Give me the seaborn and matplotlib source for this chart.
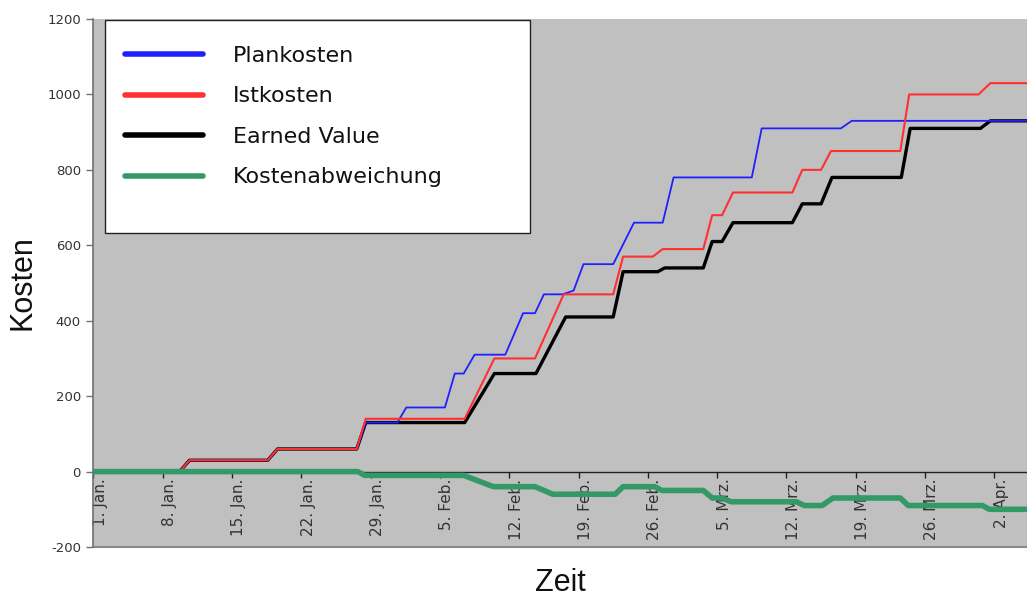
import matplotlib
matplotlib.use("Agg")
import matplotlib.pyplot as plt
import seaborn as sns
import pandas as pd
from matplotlib.patches import Rectangle

# Corner points of each cumulative cost curve (x = days since 1 Jan)
plan_days = [0, 8.7, 9.7, 17.6, 18.6, 26.6, 27.5, 30.7, 31.6, 35.5, 36.5, 37.4, 38.5,
             41.6, 43.4, 44.6, 45.5, 47.4, 48.5, 49.5, 52.5, 54.6, 57.5, 58.6, 66.5,
             67.5, 75.5, 76.6, 94.5]
plan_vals = [0, 0, 30, 30, 60, 60, 130, 130, 170, 170, 260, 260, 310,
             310, 420, 420, 470, 470, 480, 550, 550, 660, 660, 780, 780,
             910, 910, 930, 930]

ist_days = [0, 8.7, 9.7, 17.6, 18.6, 26.6, 27.5, 37.5, 40.5, 44.6, 47.5, 52.5, 53.5,
            56.5, 57.5, 61.6, 62.5, 63.5, 64.6, 70.6, 71.6, 73.5, 74.5, 81.5, 82.4,
            89.4, 90.6, 94.5]
ist_vals = [0, 0, 30, 30, 60, 60, 140, 140, 300, 300, 470, 470, 570,
            570, 590, 590, 680, 680, 740, 740, 800, 800, 850, 850, 1000,
            1000, 1030, 1030]

ev_days = [0, 8.7, 9.7, 17.6, 18.6, 26.6, 27.5, 37.5, 40.5, 44.7, 47.7, 52.5, 53.5,
           57.0, 57.7, 61.6, 62.5, 63.5, 64.6, 70.6, 71.6, 73.5, 74.6, 81.6, 82.5,
           89.6, 90.6, 94.5]
ev_vals = [0, 0, 30, 30, 60, 60, 130, 130, 260, 260, 410, 410, 530,
           530, 540, 540, 610, 610, 660, 660, 710, 710, 780, 780, 910,
           910, 930, 930]

kv_days = [0, 26.7, 27.4, 37.4, 40.4, 44.6, 46.4, 52.7, 53.5, 56.7, 57.4, 61.6, 62.5,
           63.5, 64.4, 71.0, 71.8, 73.6, 74.7, 81.5, 82.3, 89.8, 90.5, 94.5]
kv_vals = [0, 0, -10, -10, -40, -40, -60, -60, -40, -40, -50, -50, -70,
           -70, -80, -80, -90, -90, -70, -70, -90, -90, -100, -100]

tick_days = [0, 7, 14, 21, 28, 35, 42, 49, 56, 63, 70, 77, 84, 91]
tick_labels = ["1. Jan.", "8. Jan.", "15. Jan.", "22. Jan.", "29. Jan.", "5. Feb.",
               "12. Feb.", "19. Feb.", "26. Feb.", "5. Mrz.", "12. Mrz.", "19. Mrz.",
               "26. Mrz.", "2. Apr."]
y_ticks = [-200, 0, 200, 400, 600, 800, 1000, 1200]

sns.set_theme(style="white")
plt.rcParams['font.family'] = ['DejaVu Sans']

fig = plt.figure(figsize=(10.27, 6), dpi=100)
ax = fig.add_axes([0.091, 0.0883, 0.909, 0.8800])
ax.set_facecolor('#C0C0C0')

# name, x, y, colour, width, stacking order
series = [
    ("Plankosten", plan_days, plan_vals, "#2020ff", 1.3, 3),
    ("Istkosten", ist_days, ist_vals, "#ff3030", 1.5, 4),
    ("Earned Value", ev_days, ev_vals, "#000000", 2.4, 2),
    ("Kostenabweichung", kv_days, kv_vals, "#339966", 4.0, 5),
]
for name, d, v, col, lw, z in series:
    df = pd.DataFrame({"Tag": d, "Kosten": v})
    sns.lineplot(data=df, x="Tag", y="Kosten", ax=ax, color=col, linewidth=lw,
                 label=name, zorder=z, sort=False)

ax.set_xlim(0, 94.3)
ax.set_ylim(-200, 1200)

# Date axis crosses at zero
ax.spines['bottom'].set_position(('data', 0))
ax.spines['bottom'].set_color('#202020')
ax.spines['bottom'].set_linewidth(1.0)
ax.spines['bottom'].set_zorder(1.5)
ax.spines['top'].set_visible(False)
ax.spines['right'].set_visible(False)
ax.spines['left'].set_color('#707070')
ax.spines['left'].set_linewidth(1.2)
ax.axhline(-200, color='#8a8a8a', lw=1.5, clip_on=False, zorder=1)

ax.set_xticks([d + 0.7 for d in tick_days])
ax.set_xticklabels(tick_labels, rotation=90, fontsize=11, color='#333333')
ax.set_xticks(tick_days, minor=True)
ax.tick_params(axis='x', which='major', length=0, pad=5)
ax.tick_params(axis='x', which='minor', length=4, width=1, color='#202020',
               direction='out', bottom=True)

ax.set_yticks(y_ticks)
ax.set_yticklabels([str(t) for t in y_ticks], fontsize=9.5, color='#333333')
ax.tick_params(axis='y', length=5, width=1, color='#707070', left=True, pad=4)

ax.set_xlabel("Zeit", fontsize=22, family='Liberation Sans', color='#111111')
ax.set_ylabel("Kosten", fontsize=22, family='Liberation Sans', color='#111111')
ax.xaxis.set_label_coords(0.5, -0.04)
ax.yaxis.set_label_coords(-0.06, 0.5)

# Legend panel
ax.add_patch(Rectangle((0.0123, 0.5947), 0.4553, 0.4033, transform=ax.transAxes,
                       facecolor='white', edgecolor='#222222', lw=1.0, zorder=10))
leg = ax.legend(loc='upper left', bbox_to_anchor=(0.0337, 0.949), frameon=False,
                fontsize=16, handlelength=3.5, handletextpad=1.35,
                labelspacing=0.92, borderpad=0, borderaxespad=0)
leg.set_zorder(11)
for h in leg.get_lines():
    h.set_linewidth(4)
for t in leg.get_texts():
    t.set_color('#111111')

fig.savefig("out.png", dpi=100)
